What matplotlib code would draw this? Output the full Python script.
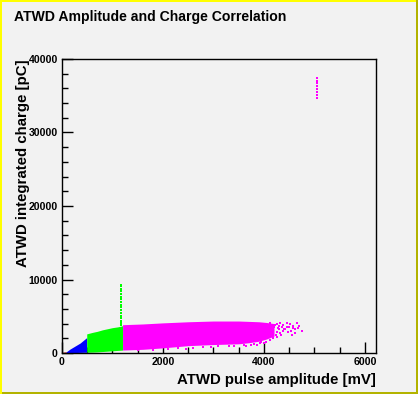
import numpy as np
import matplotlib
matplotlib.use('Agg')
import matplotlib.pyplot as plt
from matplotlib.patches import Rectangle
from matplotlib.ticker import MultipleLocator

plt.rcParams['font.family'] = 'Liberation Sans'
plt.rcParams['font.weight'] = 'bold'

# envelopes of the filled (dense) regions: x [mV], low/high [pC]
red_x = [0, 40, 80]
red_lo = [0, 0, 0]
red_hi = [60, 110, 150]

blue_x = [80, 160, 260, 360, 490]
blue_lo = [40, 50, 60, 80, 100]
blue_hi = [140, 540, 950, 1360, 2100]

green_x = [490, 600, 700, 800, 900, 1000, 1100, 1200]
green_lo = [100, 120, 150, 200, 250, 300, 350, 400]
green_hi = [2600, 2800, 2950, 3150, 3300, 3450, 3550, 3700]

mag_x = [1200, 1600, 2000, 2500, 3000, 3500, 3700, 3900, 4050, 4200]
mag_lo = [400, 500, 700, 1000, 1150, 1250, 1400, 1600, 1900, 2300]
mag_hi = [3850, 3950, 4100, 4250, 4350, 4350, 4300, 4250, 4150, 4000]

# sparse points (tail and outliers)
tail_x = [4120, 4220, 4320, 4380, 4450, 4510, 4570, 4650, 4680, 4750, 4610, 4580,
          4380, 4320, 4250, 4180, 4120, 4050, 3990, 3920, 3860, 4450, 4550, 4150,
          4280, 4180, 4080, 4200, 4300, 4400, 4100, 4250, 4350, 4300, 4420, 4500,
          4260, 4340, 4480, 4230, 3800, 3750, 3950, 4000, 4700, 4620, 4530]
tail_y = [4040, 3810, 4040, 3810, 3580, 3950, 3360, 4040, 3360, 2990, 2680, 3670,
          3030, 2680, 2220, 2000, 1770, 1540, 2000, 1320, 1090, 4130, 2450, 3130,
          3360, 2680, 2450, 3500, 3200, 3300, 2900, 3900, 3500, 3700, 3200, 3500,
          2900, 2500, 2800, 2500, 1200, 1150, 1450, 1300, 3700, 3250, 3000]
low_x = [1500, 1800, 2100, 2300, 2600, 2800, 3100, 3300, 3400, 2450, 2950, 3600, 3650]
low_y = [350, 420, 500, 650, 700, 800, 900, 950, 1000, 550, 850, 1100, 950]

# green vertical streak near 1160 mV
gspike_x = [1160] * 17
gspike_y = [9250, 9050, 8700, 8400, 8000, 7600, 7300, 6900, 6500, 6200, 5800,
            5500, 5100, 4800, 4400, 4100, 3800]

# magenta streak near 5050 mV
mspike_x = [5050] * 8
mspike_y = [37400, 36950, 36700, 36300, 35900, 35500, 35100, 34700]

bg = '#f2f2f2'
fig = plt.figure(figsize=(4.18, 3.94), dpi=100, facecolor=bg)
ax = fig.add_axes([62 / 418, 41 / 394, 314 / 418, 294 / 394], facecolor=bg)

for xs, lo, hi, c in [(red_x, red_lo, red_hi, '#ff0000'),
                      (blue_x, blue_lo, blue_hi, '#0000ff'),
                      (green_x, green_lo, green_hi, '#00ff00'),
                      (mag_x, mag_lo, mag_hi, '#ff00ff')]:
    ax.fill_between(xs, lo, hi, color=c, lw=0, antialiased=False, zorder=2)

ms = 1.6
ax.plot(tail_x, tail_y, ls='none', marker='s', ms=ms, mew=0, color='#ff00ff', zorder=2)
ax.plot(low_x, low_y, ls='none', marker='s', ms=ms, mew=0, color='#ff00ff', zorder=2)
ax.plot(gspike_x, gspike_y, ls='none', marker='s', ms=ms, mew=0, color='#00ff00', zorder=2)
ax.plot(mspike_x, mspike_y, ls='none', marker='s', ms=ms, mew=0, color='#ff00ff', zorder=2)

ax.set_xlim(0, 6220)
ax.set_ylim(0, 40000)
ax.xaxis.set_major_locator(MultipleLocator(2000))
ax.xaxis.set_minor_locator(MultipleLocator(500))
ax.yaxis.set_major_locator(MultipleLocator(10000))
ax.yaxis.set_minor_locator(MultipleLocator(2000))
ax.tick_params(which='both', direction='in', top=False, right=False, width=1, color='black')
ax.tick_params(which='major', length=8, labelsize=7.6, pad=3)
ax.tick_params(which='minor', length=4)
for lab in ax.get_xticklabels() + ax.get_yticklabels():
    lab.set_fontweight('bold')
for s in ax.spines.values():
    s.set_linewidth(1)
    s.set_color('black')

fig.text(14 / 418, 1 - 17.5 / 394, 'ATWD Amplitude and Charge Correlation',
         fontsize=10.1, fontweight='bold', ha='left', va='center')
fig.text(376 / 418, 1 - 380 / 394, 'ATWD pulse amplitude [mV]',
         fontsize=10.8, fontweight='bold', ha='right', va='center')
fig.text(23 / 418, 1 - 59 / 394, 'ATWD integrated charge [pC]',
         fontsize=10.8, fontweight='bold', ha='center', va='top', rotation=90)

# canvas bevel border
fig.patches.append(Rectangle((0, 0), 2 / 418, 1, transform=fig.transFigure, color='#ffff00', lw=0))
fig.patches.append(Rectangle((0, 1 - 2 / 394), 1, 2 / 394, transform=fig.transFigure, color='#ffff00', lw=0))
fig.patches.append(Rectangle((1 - 2 / 418, 0), 2 / 418, 1, transform=fig.transFigure, color='#b3b300', lw=0))
fig.patches.append(Rectangle((2 / 418, 0), 1, 2 / 394, transform=fig.transFigure, color='#b3b300', lw=0))

fig.savefig('out.png', dpi=100, facecolor=bg)
